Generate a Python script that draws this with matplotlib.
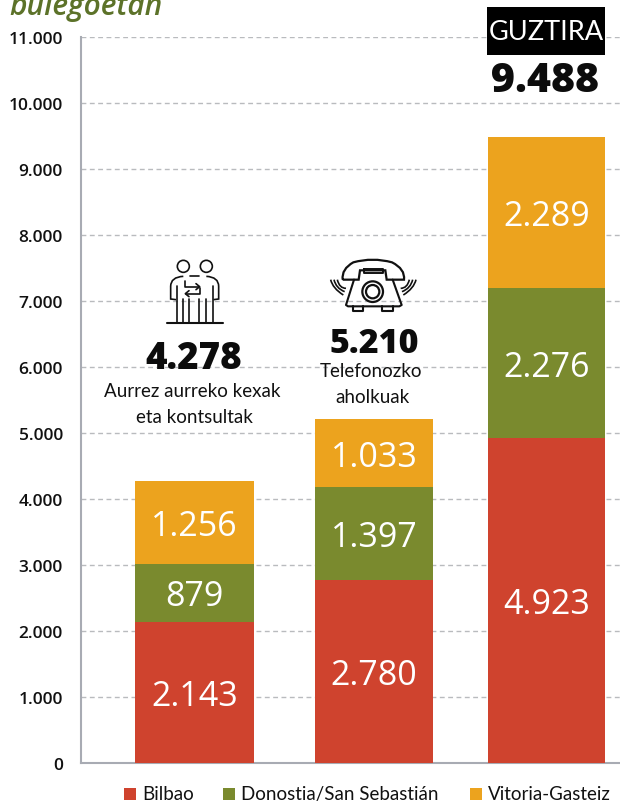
import matplotlib
matplotlib.use("Agg")
import matplotlib.pyplot as plt
from matplotlib.patches import Rectangle, Circle, PathPatch
from matplotlib.path import Path

# ---- data ----
channels = ["Aurrez aurreko", "Telefonozko", "Guztira"]
bilbao = [2143, 2780, 4923]
donostia = [879, 1397, 2276]
vitoria = [1256, 1033, 2289]
totals = [4278, 5210, 9488]
series_names = ["Bilbao", "Donostia/San Sebastián", "Vitoria-Gasteiz"]
y_ticks = [0, 1000, 2000, 3000, 4000, 5000, 6000, 7000, 8000, 9000, 10000, 11000]

# ---- style ----
RED, GREEN, ORANGE = "#cf432e", "#7a8a2e", "#eca31e"
GRID = "#b9bbbe"
SPINE = "#a8abb3"
W, H = 620, 803
NARROW = "Lato"
NUM = "Open Sans"
INK = "#0c0c0c"


def fmt(v):
    return f"{v:,}".replace(",", ".")


fig = plt.figure(figsize=(W / 100, H / 100), dpi=100, facecolor="white")
ax = fig.add_axes([81 / W, (H - 764) / H, (W - 81) / W, (764 - 38) / H])
ax.set_xlim(81, 620)
ax.set_ylim(0, 11000)

bar_x = [194.5, 374, 546.5]
bar_w = [119, 118, 117]
bottom2 = [a + b for a, b in zip(bilbao, donostia)]
ax.bar(bar_x, bilbao, bar_w, color=RED, zorder=3)
ax.bar(bar_x, donostia, bar_w, bottom=bilbao, color=GREEN, zorder=3)
ax.bar(bar_x, vitoria, bar_w, bottom=bottom2, color=ORANGE, zorder=3)

for x, a, b, c, b2 in zip(bar_x, bilbao, donostia, vitoria, bottom2):
    for val, base in ((a, 0), (b, a), (c, b2)):
        ax.annotate(fmt(val), (x, base + val / 2), xytext=(0, -2.6), textcoords="offset points",
                    color="white", ha="center", va="center",
                    family=NUM, fontsize=24.5, zorder=4)

ax.set_yticks(y_ticks)
ax.set_yticklabels([fmt(v) for v in y_ticks], family=NUM, fontsize=12.5, fontweight=600, color="#111111")
ax.tick_params(axis="y", length=0, pad=13)
ax.set_xticks([])
ax.yaxis.grid(True, color=GRID, linestyle=(0, (3.5, 2.5)), linewidth=1, zorder=1)
ax.set_axisbelow(True)
for s in ("top", "right"):
    ax.spines[s].set_visible(False)
for s in ("left", "bottom"):
    ax.spines[s].set_color(SPINE)
    ax.spines[s].set_linewidth(1.5)

# overlay in pixel space for annotations and icons
ov = fig.add_axes([0, 0, 1, 1], zorder=5)
ov.set_xlim(0, W)
ov.set_ylim(H, 0)
ov.axis("off")
ov.patch.set_alpha(0)

ov.text(9, 15, "bulegoetan", family="Open Sans", style="italic", fontsize=21.5,
        fontweight=600, color="#5c7229", ha="left", va="baseline")

# totals and captions
ov.text(194, 360, fmt(totals[0]), family=NUM, fontweight=800, fontsize=26.5, ha="center", va="center", color=INK)
ov.text(374, 344, fmt(totals[1]), family=NUM, fontweight=800, fontsize=24.5, ha="center", va="center", color=INK)
ov.text(545, 82, fmt(totals[2]), family=NUM, fontweight=800, fontsize=29.5, ha="center", va="center", color=INK)
cap = dict(family=NARROW, fontsize=13.5, ha="center", va="center", color="#111111")
ov.text(192.5, 392, "Aurrez aurreko kexak", **cap)
ov.text(194.5, 418, "eta kontsultak", **cap)
ov.text(371.5, 372, "Telefonozko", **cap)
ov.text(373, 398, "aholkuak", **cap)

# GUZTIRA box
ov.add_patch(Rectangle((487, 8), 118, 48, color="black", lw=0))
ov.text(546, 33, "GUZTIRA", family=NARROW, fontsize=19.5, color="white", ha="center", va="center")

# legend
leg_sq = [124, 223, 470]
leg_colors = [RED, GREEN, ORANGE]
for x0, col, name in zip(leg_sq, leg_colors, series_names):
    ov.add_patch(Rectangle((x0, 789), 12, 12, color=col, lw=0))
    ov.text(x0 + 18, 795, name, family=NARROW, fontsize=13.5, ha="left", va="center", color="#111111")


# icons (authored in the coordinates of a crop at 3x, offset to 100,250)
def P(x, y):
    return 100 + x / 3, 250 + y / 3


def line(pts, lw=1.2):
    xs, ys = zip(*[P(*p) for p in pts])
    ov.plot(xs, ys, color="#111111", lw=lw, solid_capstyle="round", solid_joinstyle="round")


def curve(verts, codes, lw=1.2):
    ov.add_patch(PathPatch(Path([P(*v) for v in verts], codes), fc="none", ec="#111111", lw=lw))


def ring(cx, cy, r, lw=1.2):
    x, y = P(cx, cy)
    ov.add_patch(Circle((x, y), r / 3, fc="none", ec="#111111", lw=lw))


M, L, C3 = Path.MOVETO, Path.LINETO, Path.CURVE3

# two people
ring(250, 52, 18)
ring(319, 52, 18)
line([(200, 222), (368, 222)], 1.5)
curve([(250, 82), (212, 84), (212, 112), (212, 150), (228, 152)], [M, C3, C3, L, L])
curve([(319, 82), (356, 84), (356, 112), (356, 150), (340, 152)], [M, C3, C3, L, L])
line([(270, 82), (298, 82)])
for x in (230, 248, 268, 298, 318, 338):
    y0 = 110 if x in (230, 338) else 150
    line([(x, y0), (x, 222)])
line([(256, 95), (256, 113), (298, 113)])
line([(288, 104), (299, 113), (288, 122)])
line([(300, 116), (300, 134), (257, 134)])
line([(267, 125), (256, 134), (267, 143)])

# telephone
curve([(728, 92), (724, 60), (760, 40), (818, 24), (876, 40), (916, 60), (912, 92),
       (860, 92), (856, 64), (780, 64), (776, 92), (728, 92)],
      [M, C3, C3, C3, C3, C3, C3, L, L, L, L, L], 1.6)
line([(792, 60), (848, 60), (848, 72), (792, 72), (792, 60)], 1.4)
line([(762, 92), (738, 168), (744, 172), (898, 172), (905, 168), (878, 92)], 1.5)
ring(818, 128, 31, 1.6)
ring(818, 128, 20, 1.6)
line([(758, 172), (758, 186), (790, 186), (790, 172)], 1.5)
line([(846, 172), (846, 186), (880, 186), (880, 172)], 1.5)
for off in (0, 10, 20):
    curve([(692 + off, 92), (698 + off, 118), (730 + off * 0.4, 138 - off)], [M, C3, C3])
    curve([(948 - off, 92), (942 - off, 118), (910 - off * 0.4, 138 - off)], [M, C3, C3])

fig.savefig("out.png", dpi=100)
